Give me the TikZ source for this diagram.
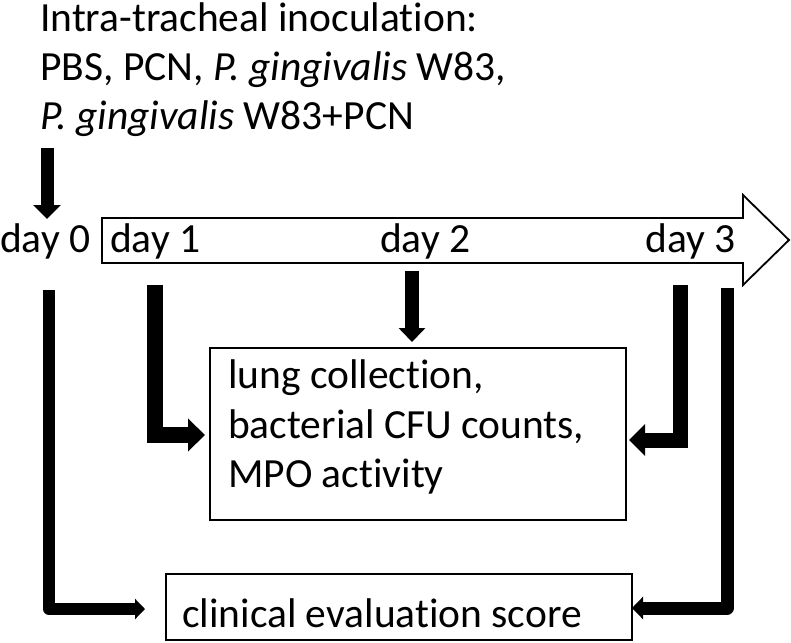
\documentclass[tikz,border=0pt]{standalone}
\usepackage{fontspec}
\setmainfont[Ligatures=NoCommon]{Carlito}
\usetikzlibrary{arrows.meta}
\begin{document}
\begin{tikzpicture}[x=1pt,y=-1pt,
  txt/.style={font=\fontsize{41.5}{50}\selectfont, inner sep=0pt, anchor=base west},
  boxsty/.style={draw, line width=1.6pt, inner sep=0pt, anchor=north west},
  conn/.style={draw, line join=miter}]
\useasboundingbox (0,0) rectangle (791,642);

% top text
\node[txt] (l1) at (40,31) {Intra-tracheal inoculation:};
\node[txt] (l2) at (40,80) {PBS, PCN, \textit{P. gingivalis} W83,};
\node[txt] (l3) at (40,129) {\textit{P. gingivalis} W83+PCN};

% timeline arrow
\draw[line width=1.8pt, line join=miter] (102,218) -- (743,218) -- (743,195) -- (789,240) -- (743,285) -- (743,263) -- (102,263) -- cycle;

% day labels
\node[txt] (day0) at (0,252) {day 0};
\node[txt] (day1) at (110,252) {day 1};
\node[txt] (day2) at (380,252) {day 2};
\node[txt] (day3) at (645,252) {day 3};

% boxes
\node[boxsty, minimum width=416pt, minimum height=172pt] (box1) at (209,347) {};
\node[txt] (b1) at (228,388) {lung collection,};
\node[txt] (b2) at (228,438) {bacterial CFU counts,};
\node[txt] (b3) at (228,487) {MPO activity};

\node[boxsty, minimum width=466pt, minimum height=66pt] (box2) at (165,573) {};
\node[txt] (c1) at (182,627) {clinical evaluation score};

% coordinates
\coordinate (a0s) at (47,148);
\coordinate (a0e) at (47,219);
\coordinate (a2s) at (412,271);
\coordinate (a2e) at (412,342);
\coordinate (d1s) at (155,285);
\coordinate (d1e) at (205,435);
\coordinate (d3s) at (680,285);
\coordinate (d3e) at (629,440);
\coordinate (e3s) at (727,288);
\coordinate (e3e) at (632,608);
\coordinate (e0s) at (49,290);
\coordinate (e0e) at (145,609);

% connectors
\draw[conn, line width=13pt, -{Triangle[width=27pt,length=14pt]}] (a0s) -- (a0e);
\draw[conn, line width=14pt, -{Triangle[width=26pt,length=14pt]}] (a2s) -- (a2e);
\draw[conn, line width=16pt, -{Triangle[width=32pt,length=17pt]}] (d1s) |- (d1e);
\draw[conn, line width=15pt, -{Triangle[width=31pt,length=16pt]}] (d3s) |- (d3e);
\draw[conn, line width=13pt, line join=round, -{Triangle[width=22pt,length=11pt]}] (e3s) |- (e3e);
\draw[conn, line width=12pt, line join=round, -{Triangle[width=20pt,length=10pt]}] (e0s) |- (e0e);
\end{tikzpicture}
\end{document}
